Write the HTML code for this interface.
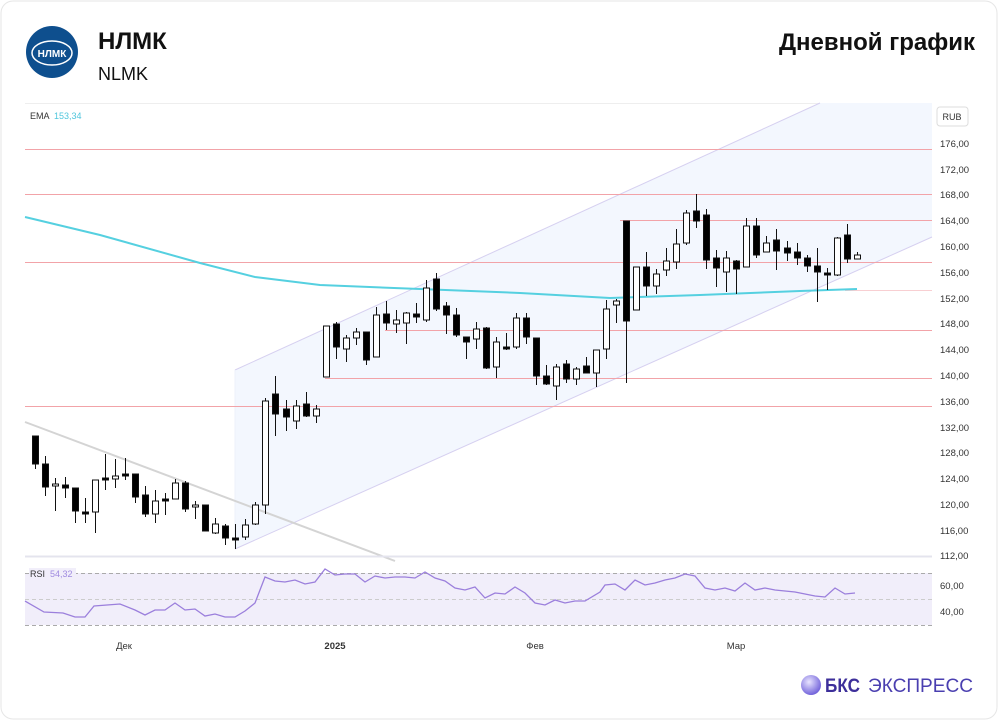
<!DOCTYPE html>
<html><head><meta charset="utf-8"><style>
body{margin:0;background:#fff;width:1000px;height:722px;overflow:hidden;font-family:"Liberation Sans",sans-serif}
svg text{font-family:"Liberation Sans",sans-serif}
</style></head><body>
<svg id="s" width="1000" height="722" viewBox="0 0 1000 722" xmlns="http://www.w3.org/2000/svg">
<rect x="1" y="1" width="996" height="718" rx="12" fill="#fff" stroke="#e6e6e6"/>
<circle cx="52" cy="52" r="26" fill="#0e4f8e"/>
<ellipse cx="52" cy="53" rx="20" ry="12" fill="none" stroke="#fff" stroke-width="1.5"/>
<text x="52" y="57" font-size="10" font-weight="bold" fill="#fff" text-anchor="middle">НЛМК</text>
<text x="98" y="49" font-size="24" font-weight="bold" fill="#111">НЛМК</text>
<text x="98" y="80" font-size="18" fill="#111">NLMK</text>
<text x="975" y="50" font-size="24" font-weight="bold" fill="#111" text-anchor="end">Дневной график</text>
<line x1="25" y1="103.5" x2="932" y2="103.5" stroke="#eee"/>
<text x="30" y="119" font-size="9" fill="#333">EMA</text>
<text x="54" y="119" font-size="9" fill="#4fc6dc">153,34</text>
<rect x="937" y="107" width="31" height="19" rx="3" fill="#fff" stroke="#ddd"/>
<text x="952" y="120" font-size="9" fill="#333" text-anchor="middle">RUB</text>
<polygon points="235,370 820,103 932,103 932,237 235,549" fill="#f3f7fe"/>
<line x1="235" y1="370" x2="820" y2="103" stroke="#d6d0f0"/>
<line x1="235" y1="549" x2="932" y2="237" stroke="#d6d0f0"/>
<line x1="235" y1="370" x2="235" y2="549" stroke="#eef2fb"/>
<line x1="25" y1="422" x2="395" y2="561" stroke="#d4d4d4" stroke-width="2"/>
<g stroke="#f2a3a8" stroke-width="1">
<line x1="25" y1="149.5" x2="932" y2="149.5"/>
<line x1="25" y1="194.5" x2="932" y2="194.5"/>
<line x1="620" y1="220.5" x2="932" y2="220.5"/>
<line x1="25" y1="262.5" x2="932" y2="262.5"/>
<line x1="385" y1="330.5" x2="932" y2="330.5"/>
<line x1="325" y1="378.5" x2="932" y2="378.5"/>
<line x1="25" y1="406.5" x2="932" y2="406.5"/>
<line x1="845" y1="290.5" x2="932" y2="290.5" stroke="#f8cfd2"/>
</g>
<line x1="25" y1="556.5" x2="932" y2="556.5" stroke="#e4e4ee" stroke-width="2"/>
<polyline fill="none" stroke="#55d0e0" stroke-width="2" points="25,217 100,235 200,263 255,277 320,285 420,289 520,293 610,298 700,295 800,291 857,289"/>
<g id="c"></g>
<g font-size="9.5" fill="#333">
<text x="940" y="147">176,00</text><text x="940" y="173">172,00</text><text x="940" y="198">168,00</text><text x="940" y="224">164,00</text><text x="940" y="250">160,00</text><text x="940" y="276">156,00</text><text x="940" y="302">152,00</text><text x="940" y="327">148,00</text><text x="940" y="353">144,00</text><text x="940" y="379">140,00</text><text x="940" y="405">136,00</text><text x="940" y="431">132,00</text><text x="940" y="456">128,00</text><text x="940" y="482">124,00</text><text x="940" y="508">120,00</text><text x="940" y="534">116,00</text><text x="940" y="559">112,00</text>
<text x="940" y="589">60,00</text><text x="940" y="615">40,00</text>
</g>
<rect x="25" y="573" width="907" height="52" fill="#f1eefa"/>
<g stroke="#aaa" stroke-dasharray="4,3"><line x1="25" y1="573.5" x2="932" y2="573.5"/><line x1="25" y1="599.5" x2="932" y2="599.5" stroke="#ccc"/><line x1="25" y1="625.5" x2="932" y2="625.5"/></g>
<rect x="29" y="568" width="47" height="11" fill="#f1eefa"/>
<text x="30" y="577" font-size="9" fill="#333">RSI</text><text x="50" y="577" font-size="9" fill="#a08be0">54,32</text>
<polyline fill="none" stroke="#9b7fdc" stroke-width="1.3" points="25,601 44,612 63,613 75,617 85,617 94,606 120,604 135,610 145,615 155,610 165,610 175,603 185,610 195,609 205,616 215,614 225,617 235,617 245,611 255,603 265,577 275,581 285,582 295,580 305,584 315,582 325,569 335,575 345,574 355,574 365,582 375,576 385,578 395,577 405,577 415,578 425,572 435,578 445,581 455,588 465,590 475,587 485,598 495,593 505,594 515,587 525,593 535,603 545,605 555,600 565,603 575,601 585,601 600,592 605,585 615,584 625,590 635,580 645,585 655,583 665,580 675,578 685,574 695,576 705,588 715,590 725,588 735,591 745,583 755,590 765,588 775,590 785,591 795,592 805,594 815,596 825,597 835,588 845,594 855,593"/>
<g font-size="9.5" fill="#333" text-anchor="middle">
<text x="124" y="649">Дек</text><text x="335" y="649" font-weight="bold">2025</text><text x="535" y="649">Фев</text><text x="736" y="649">Мар</text>
</g>
<defs><radialGradient id="g" cx="0.4" cy="0.35" r="0.7"><stop offset="0" stop-color="#e8e4ff"/><stop offset="1" stop-color="#6a5ad8"/></radialGradient></defs>
<circle cx="811" cy="685" r="10" fill="url(#g)"/>
<text x="825" y="692" font-size="19" font-weight="bold" fill="#3d2f9a" textLength="35" lengthAdjust="spacingAndGlyphs">БКС</text>
<text x="868" y="692" font-size="19" fill="#4a3fb0" textLength="105" lengthAdjust="spacingAndGlyphs">ЭКСПРЕСС</text>
</svg>
<script>
var d=[[436,464,436,469],[464,487,456,496],[486,484,478,511],[485,488,477,498],[488,511,488,523],[512,512,498,523],[512,480,480,533],[478,479,454,490],[479,476,459,488],[474,476,458,480],[474,497,474,503],[495,514,486,517],[514,501,490,523],[499,499,493,515],[499,483,479,499],[483,509,481,512],[507,505,501,519],[505,531,505,531],[533,524,518,534],[526,538,524,545],[538,538,524,549],[537,525,519,540],[524,505,502,525],[505,401,398,514],[394,414,376,436],[409,417,400,431],[421,406,400,429],[404,416,392,417],[416,409,405,423],
[377,326,326,377],[324,347,322,359],[349,338,335,362],[338,332,328,345],[332,360,332,365],[357,315,307,357],[314,323,301,330],[324,320,310,333],[323,313,312,344],[314,317,303,323],[320,288,280,322],[279,309,273,311],[306,315,302,334],[315,335,308,337],[337,342,337,359],[339,329,322,349],[328,368,327,369],[367,342,337,378],[347,347,333,350],[347,318,313,349],[318,337,313,344],[338,376,338,385],[376,384,365,385],[386,367,364,400],[364,379,360,383],[379,369,367,385],[366,373,357,373],[373,350,350,387],[349,309,300,359],[305,301,299,323],[221,321,221,383],
[310,267,267,310],[267,286,252,296],[286,274,269,294],[270,261,248,276],[262,244,229,269],[243,213,210,245],[211,221,194,228],[215,260,209,269],[258,268,250,287],[272,258,251,292],[261,269,260,294],[267,226,218,267],[226,255,218,258],[252,243,236,252],[240,251,229,270],[248,253,241,261],[252,258,243,265],[258,266,255,272],[266,272,248,302],[273,275,268,290],[275,238,237,276],[235,259,224,263],[259,255,252,259]];
var h='';d.forEach(function(c,i){var x=Math.round(35+10.02*i)+0.5,o=c[0],cl=c[1],t=Math.min(o,cl),b=Math.max(o,cl);if(b-t<2)b=t+2;var white=cl<o;
h+='<line x1="'+x+'" y1="'+c[2]+'" x2="'+x+'" y2="'+c[3]+'" stroke="#111"/>';
h+='<rect x="'+(x-3)+'" y="'+t+'" width="6" height="'+(b-t)+'" fill="'+(white?'#fff':'#000')+'" stroke="#111" stroke-width="1"/>';});
document.getElementById('c').innerHTML=h;
</script>
</body></html>
